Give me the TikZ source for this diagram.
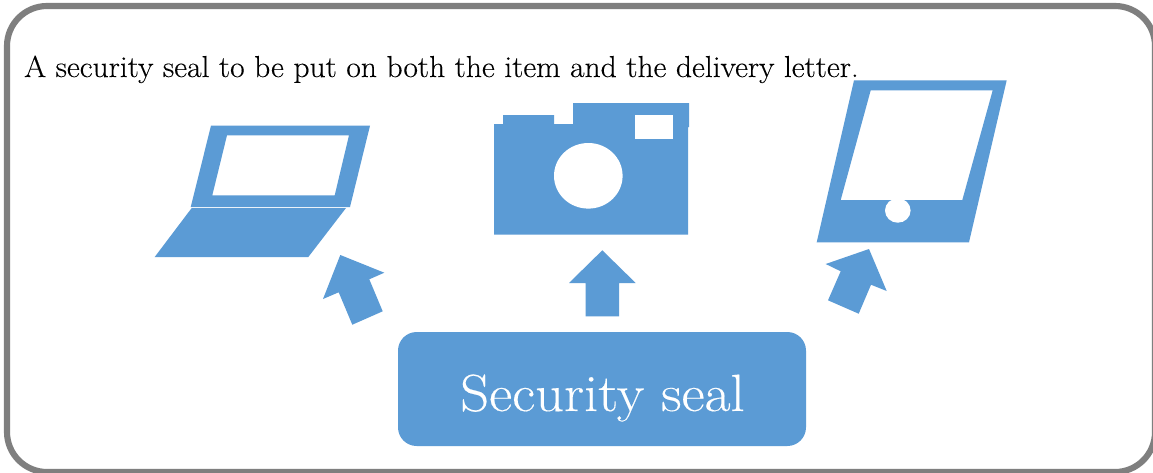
\documentclass[tikz,border=0pt]{standalone}
\usepackage{fontspec}
\setmainfont[FakeStretch=1.08,FakeBold=0.25]{Latin Modern Roman}
\newfontfamily\captionfont[FakeStretch=1.04,FakeBold=0.25]{Latin Modern Roman}
\definecolor{sealblue}{HTML}{5B9BD5}
\definecolor{framegray}{HTML}{7F7F7F}
\tikzset{
  px/.style={x=0.75pt,y=-0.75pt},
  shapefill/.style={fill=sealblue,draw=none},
  hole/.style={fill=white,draw=none},
  framebox/.style={draw=framegray,line width=4.6pt,rounded corners=30pt,fill=white},
  captiontext/.style={anchor=base west,inner sep=0pt,font=\captionfont\fontsize{22.75}{28}\selectfont,text=black},
  sealbox/.style={fill=sealblue,draw=none,rounded corners=14pt,minimum width=306pt,minimum height=85.5pt,inner sep=0pt},
  sealtext/.style={anchor=base,inner sep=0pt,text=white,font=\fontsize{39.3}{46}\selectfont}
}
\begin{document}
\begin{tikzpicture}[px]
\useasboundingbox (0,0) rectangle (1153,472);
\path[framebox] (7,6) rectangle (1155,472);
% laptop
\path[shapefill,even odd rule] (211,125.7) -- (370,125.7) -- (350,207) -- (190.7,207) -- cycle
  (227,135.3) -- (349,135.3) -- (334.7,195.3) -- (212.3,195.3) -- cycle;
\path[shapefill] (191.7,208) -- (346,208) -- (308.3,257) -- (154.7,257) -- cycle;
% camera
\path[shapefill] (494,124) -- (503,124) -- (503,115) -- (554,115) -- (554,124) -- (573,124) -- (573,103) -- (689,103) -- (689,127) -- (688,127) -- (688,234.7) -- (494,234.7) -- cycle;
\path[hole] (635,115) rectangle (673,138.7);
\path[hole] (588.3,175.8) ellipse [x radius=34.3,y radius=32.8];
% tablet
\path[shapefill,even odd rule] (854,80.3) -- (1006.7,80.3) -- (969,242.3) -- (816.7,242.3) -- cycle
  (870.7,90.3) -- (992.7,90.3) -- (962.3,200) -- (840.7,200) -- cycle;
\path[hole] (897.8,210.5) ellipse [x radius=12.8,y radius=12.2];
% arrows
\path[shapefill] (340.3,255) -- (384.3,272.7) -- (369.3,279.3) -- (382.7,311.3) -- (352.3,324.7) -- (338.7,292.3) -- (323,299) -- cycle;
\path[shapefill] (602.3,250.3) -- (635.7,283) -- (619,283) -- (619,316.3) -- (585.7,316.3) -- (585.7,283) -- (569,283) -- cycle;
\path[shapefill] (869,249) -- (886.7,291) -- (871,284.7) -- (858.7,313.7) -- (828,300.3) -- (840.7,271.3) -- (825.7,264) -- cycle;
% texts
\node[captiontext] (caption) at (24,77) {A security seal to be put on both the item and the delivery letter.};
\node[sealbox] (seal) at (602,389) {};
\node[sealtext] (sealtxt) at (602.5,411) {Security seal};
\end{tikzpicture}
\end{document}
